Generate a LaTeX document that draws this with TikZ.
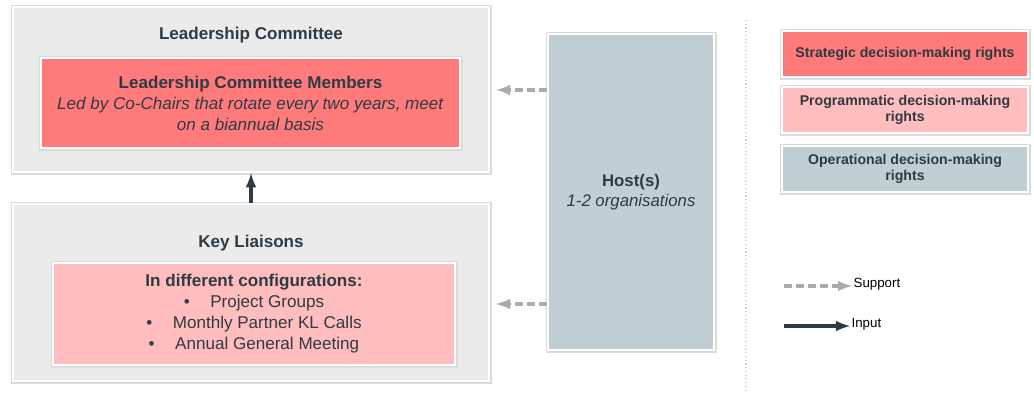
\documentclass[tikz,border=0pt]{standalone}
\usepackage{fontspec}
\setmainfont{Liberation Sans}
\usetikzlibrary{shadows}
\usetikzlibrary{positioning}
\usetikzlibrary{arrows,shapes}
\usetikzlibrary{calc}

\definecolor{strat}{HTML}{FF7B7B}
\definecolor{prog}{HTML}{FFBDBD}
\definecolor{oper}{HTML}{C1CFD4}
\definecolor{panel}{HTML}{EBEBEB}
\definecolor{ink}{HTML}{2E3B44}
\definecolor{supp}{HTML}{ABABAB}

\tikzset{
  card/.style={draw=white, line width=1.8pt, inner sep=2pt, text=ink, align=center,
    preaction={draw=black!14, line width=3.4pt, transform canvas={shift={(0.3pt,-0.5pt)}}}},
  title/.style={text=ink, font=\fontsize{12.8}{15}\selectfont\bfseries},
  supportarrow/.style={supp, line width=2.6pt, dash pattern=on 6pt off 3pt, -latex},
  inputarrow/.style={ink, line width=2.6pt, -latex}
}

\begin{document}
\begin{tikzpicture}[x=0.75pt, y=-0.75pt]
  \useasboundingbox (0,0) rectangle (1034,396);

  %leadership committee
  \node[card, fill=panel, minimum width=357pt, minimum height=123.75pt] (LC) at (251,89.5) {};
  \node[title] (LCt) at (251,35) {Leadership Committee};
  \node[card, fill=strat, minimum width=314.25pt, minimum height=67.5pt,
        font=\fontsize{12.8}{15.75}\selectfont] (LCm) at (250.5,103)
       {\textbf{Leadership Committee Members}\\
        \textit{Led by Co-Chairs that rotate every two years, meet}\\
        \textit{on a biannual basis}};

  %key liaisons
  \node[card, fill=panel, minimum width=357pt, minimum height=132.75pt] (KL) at (251,292.5) {};
  \node[title] (KLt) at (251,243) {Key Liaisons};
  \node[card, fill=prog, minimum width=301.5pt, minimum height=76.5pt,
        font=\fontsize{12.8}{15.75}\selectfont] (KLm) at (254,314)
       {\textbf{In different configurations:}\\
        \textbullet\hspace{1.2em}Project Groups\\
        \textbullet\hspace{1.2em}Monthly Partner KL Calls\\
        \textbullet\hspace{1.2em}Annual General Meeting};

  %host
  \node[card, fill=oper, minimum width=124.5pt, minimum height=237pt,
        font=\fontsize{12.6}{14.5}\selectfont] (H) at (631,192)
       {\textbf{Host(s)}\\ \textit{1-2 organisations}};

  %arrows
  \draw[inputarrow] (KL.north) -- (LC.south);
  \coordinate (LCin) at (496,90);
  \coordinate (KLin) at (496,304);
  \draw[supportarrow] (H.west |- LCin) -- (LCin);
  \draw[supportarrow] (H.west |- KLin) -- (KLin);

  %separator
  \draw[gray!35, dotted, line width=0.8pt] (746,20) -- (746,392);

  %legend
  \foreach \y/\col/\name/\txt in {54/strat/S/{Strategic decision-making rights},
                                  110/prog/P/{Programmatic decision-making\\rights},
                                  169/oper/O/{Operational decision-making\\rights}} {
    \node[card, fill=\col, minimum width=184.5pt, minimum height=34.5pt,
          font=\fontsize{10.6}{12.5}\selectfont\bfseries] (L\name) at (905,\y) {\txt};
  }

  \node[right, inner sep=1pt, font=\fontsize{10}{12}\selectfont] (supp) at (852,284) {Support};
  \node[right, inner sep=1pt, font=\fontsize{10}{12}\selectfont] (inp) at (850,324) {Input};
  \coordinate (suppstart) at (784,286);
  \coordinate (inpstart) at (784,326);
  \draw[supportarrow] (suppstart) -- (suppstart -| supp.west);
  \draw[inputarrow] (inpstart) -- (inpstart -| inp.west);

\end{tikzpicture}
\end{document}
